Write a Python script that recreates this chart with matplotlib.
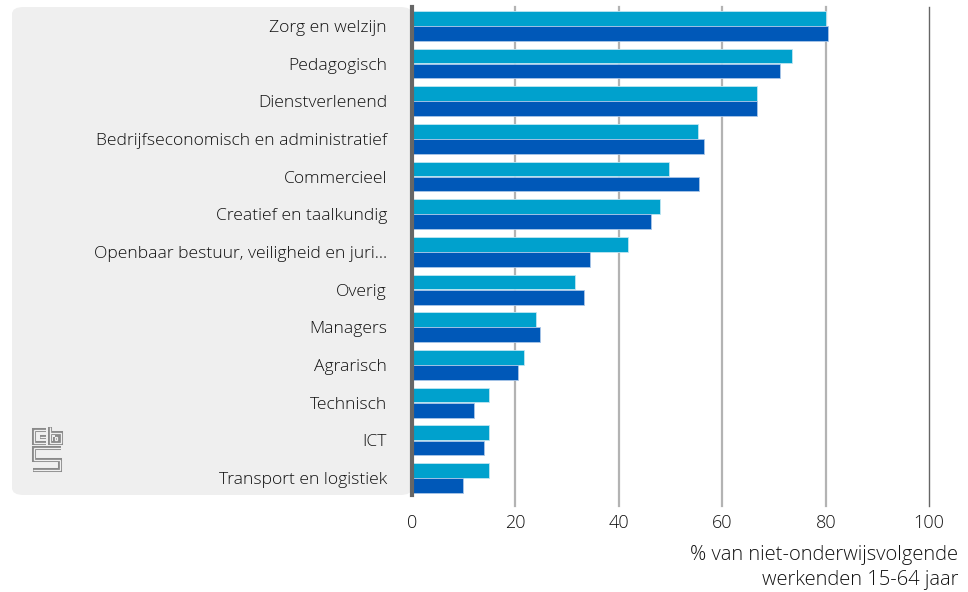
import matplotlib
matplotlib.use("Agg")
import matplotlib.pyplot as plt
from matplotlib.patches import FancyBboxPatch
import numpy as np

plt.rcParams['font.family'] = ['Open Sans', 'DejaVu Sans']

categories = ['Zorg en welzijn', 'Pedagogisch', 'Dienstverlenend',
              'Bedrijfseconomisch en administratief', 'Commercieel',
              'Creatief en taalkundig', 'Openbaar bestuur, veiligheid en juri...',
              'Overig', 'Managers', 'Agrarisch', 'Technisch', 'ICT',
              'Transport en logistiek']
series_light = [80.1, 73.5, 66.7, 55.3, 49.6, 47.9, 41.7, 31.6, 24.0, 21.7, 14.9, 14.9, 14.9]
series_dark = [80.5, 71.2, 66.7, 56.5, 55.5, 46.3, 34.5, 33.2, 24.7, 20.5, 11.9, 13.9, 9.9]
xticks = [0, 20, 40, 60, 80, 100]

W, H = 968, 592
fig = plt.figure(figsize=(W / 100, H / 100), dpi=100)

# grey panel behind the category labels
panel = FancyBboxPatch((12 / W, 1 - 495 / H), (412 - 12) / W, (495 - 7) / H,
                       boxstyle="round,pad=0,rounding_size=0.012",
                       transform=fig.transFigure, facecolor='#efefef',
                       edgecolor='none', zorder=-5)
fig.patches.append(panel)

ax = fig.add_axes([412 / W, 1 - 495 / H, (955 - 412) / W, (495 - 7) / H])
ax.patch.set_alpha(0)

y = np.arange(len(categories))
h = 0.39
ax.barh(y - 0.2, series_light, height=h, color='#00a1cd', edgecolor='#bfe6f2', linewidth=0.6, zorder=3)
ax.barh(y + 0.2, series_dark, height=h, color='#0058b8', edgecolor='#a9c6e8', linewidth=0.6, zorder=3)

ax.set_xlim(0, 105)
ax.set_ylim(12.45, -0.5)

for t in xticks[1:]:
    col = '#666666' if t == 100 else '#b3b3b3'
    lw = 1.0 if t == 100 else 1.6
    ax.axvline(t, ymin=-0.022, ymax=1, color=col, lw=lw, clip_on=False, zorder=1)

ax.set_xticks(xticks)
ax.set_yticks(y)
ax.set_yticklabels(categories)
ax.tick_params(axis='both', length=0, colors='#111111')
ax.tick_params(axis='y', pad=18, labelsize=12.6)
ax.tick_params(axis='x', pad=14, labelsize=13)
for lab in ax.get_xticklabels() + ax.get_yticklabels():
    lab.set_fontweight('light')

for s in ['top', 'right', 'bottom']:
    ax.spines[s].set_visible(False)
ax.spines['left'].set_color('#666666')
ax.spines['left'].set_linewidth(3)
ax.spines['left'].set_zorder(4)

fig.text(958 / W, 1 - 555 / H, '% van niet-onderwijsvolgende', ha='right', va='center',
         fontsize=14.5, fontweight='light', color='#111111')
fig.text(958 / W, 1 - 580 / H, 'werkenden 15-64 jaar', ha='right', va='center',
         fontsize=14.5, fontweight='light', color='#111111')

# simple cbs logo in the panel
def fx(px):
    return px / W

def fy(py):
    return 1 - py / H

logo_paths = [
    [(46, 430), (34, 430), (34, 443), (46, 443)],
    [(46, 436.5), (40, 436.5)],
    [(50, 427), (50, 443), (61, 443), (61, 433), (50, 433)],
    [(54.5, 436.5), (57, 436.5), (57, 439.5), (54.5, 439.5), (54.5, 436.5)],
    [(61, 448), (34, 448), (34, 460), (60, 460), (60, 470), (33, 470)],
]
for path in logo_paths:
    xs = [fx(p[0]) for p in path]
    ys = [fy(p[1]) for p in path]
    fig.add_artist(plt.Line2D(xs, ys, transform=fig.transFigure, color='#8a8a8a',
                              lw=2.9, solid_joinstyle='miter', solid_capstyle='butt'))
    fig.add_artist(plt.Line2D(xs, ys, transform=fig.transFigure, color='#efefef',
                              lw=0.9, solid_joinstyle='miter', solid_capstyle='butt'))

fig.savefig('out.png', dpi=100)
